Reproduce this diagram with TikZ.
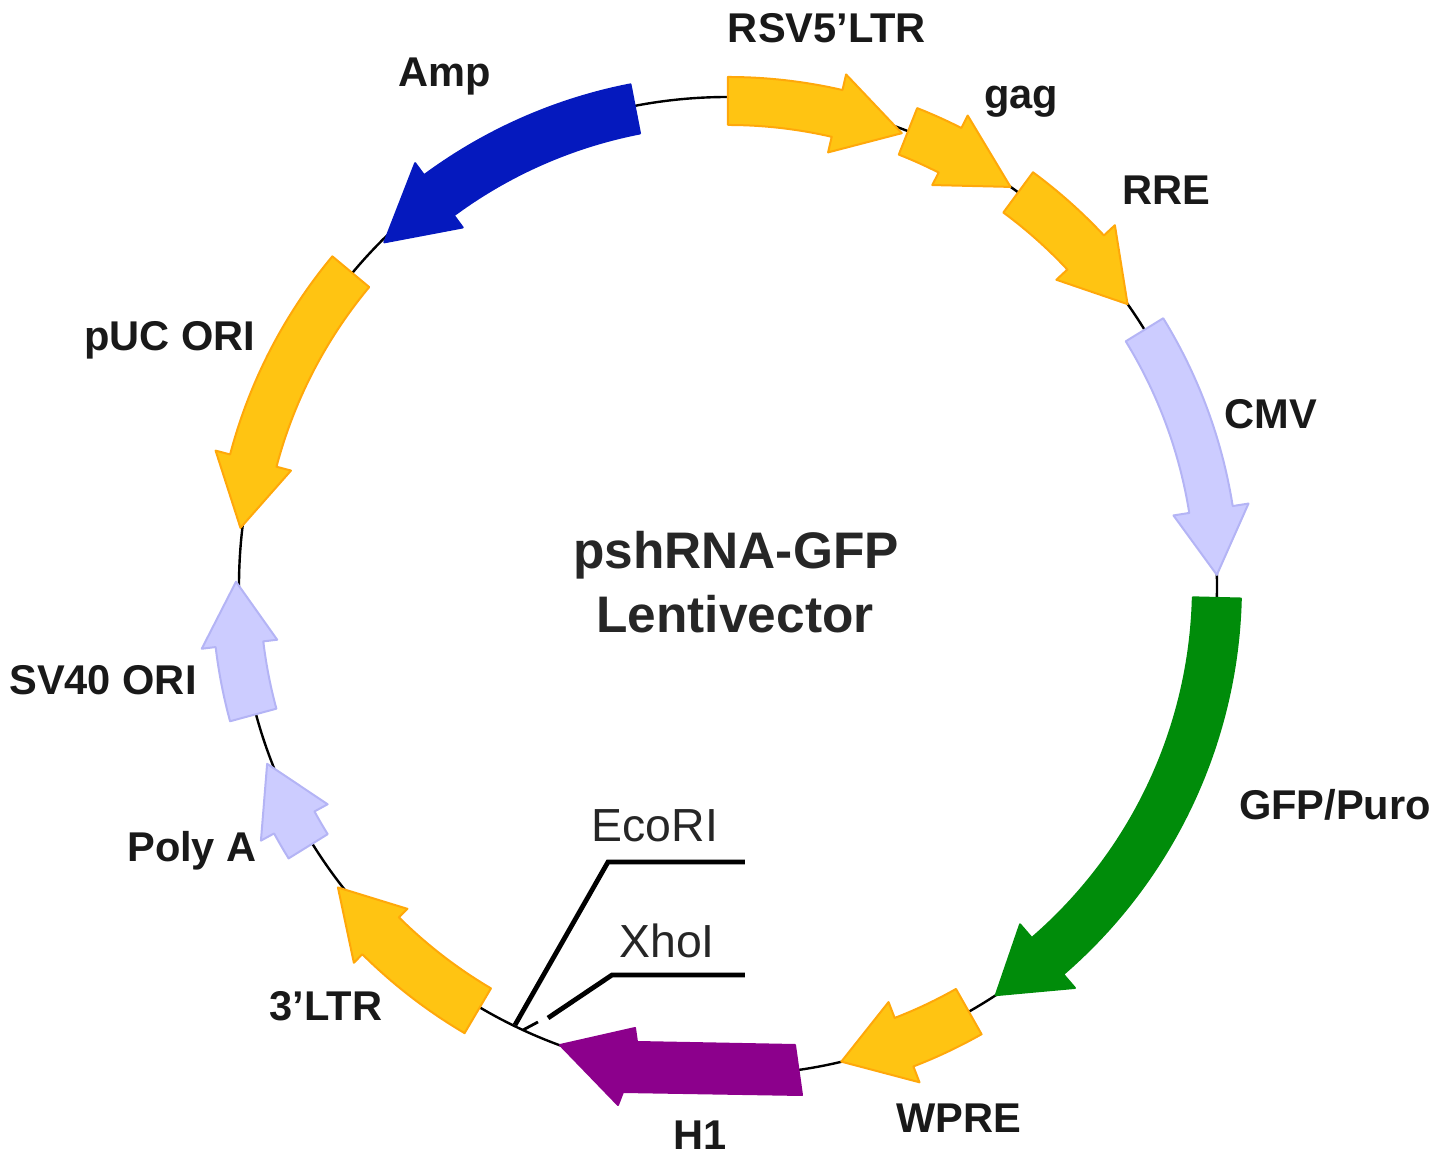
\documentclass[tikz,border=0pt]{standalone}
\usepackage{fontspec}
\setmainfont{Liberation Sans}
\definecolor{myamber}{RGB}{255,196,18}
\definecolor{myamberedge}{RGB}{255,168,10}
\definecolor{mylilac}{RGB}{204,204,255}
\definecolor{mylilacedge}{RGB}{180,180,245}
\definecolor{mygreen}{RGB}{0,140,10}
\definecolor{myblue}{RGB}{5,25,190}
\definecolor{mypurple}{RGB}{140,0,140}
\tikzset{
  genelabel/.style={font=\fontsize{20.8}{22}\selectfont\bfseries,text=black!90,inner sep=0pt},
  sitelabel/.style={font=\fontsize{23.2}{25}\selectfont,text=black!85,inner sep=0pt},
  titlelabel/.style={font=\fontsize{25.7}{28}\selectfont\bfseries,text=black!85,inner sep=0pt},
  siteline/.style={black,line width=2.4pt},
}
\begin{document}
\begin{tikzpicture}[x=0.5pt,y=0.5pt]
\def\ra{489}
  \useasboundingbox (-728,-577) rectangle (713,583);
  \coordinate (O) at (0,-3);
  \draw[black,line width=1.2pt] (O) circle (\ra);
  % start / head base / tip / radius / shaft / head / fill / edge
  \begin{scope}[shift={(O)}]
  \foreach \a/\b/\c/\r/\w/\h/\col/\edge in {
    90/77/69/485/24/40/myamber/myamberedge,
    68.4/63/54.7/489/25/39/myamber/myamberedge,
    53.6/43/35.2/489/25/40/myamber/myamberedge,
    31.6/9/1.3/489/22/38/mylilac/mylilacedge,
    -1.4/-49.2/-56.8/489/24/42/mygreen/mygreen,
    -60.5/-68.9/-76.6/489/26/43/myamber/myamberedge,
    -120.5/-134.8/-142.3/493/26/38/myamber/myamberedge,
    -148.2/-151.4/-158.9/494/23/38/mylilac/mylilacedge,
    -164.8/-173.2/-180.5/492/24/38/mylilac/mylilacedge,
    140.2/165.2/173.2/491/24/39/myamber/myamberedge,
    101/126.5/135/486/25/40/myblue/myblue}
    {
     \draw[fill=\col,draw=\edge,line width=1pt,line join=round]
       (\a:\r+\w) arc[start angle=\a,end angle=\b,radius=\r+\w]
       -- (\b:\r+\h) -- (\c:\r) -- (\b:\r-\h) -- (\b:\r-\w)
       arc[start angle=\b,end angle=\a,radius=\r-\w] -- cycle;
    }
  \end{scope}
  % H1 is nearly straight
  \draw[fill=mypurple,draw=mypurple,line width=1pt,line join=round]
    (67,-462) -- (74,-512) -- (-105,-509) -- (-110,-522) -- (-168,-462)
    -- (-93,-445) -- (-91,-459) -- cycle;
  % cloning sites
  \coordinate (ecostart) at (-213,-442);
  \coordinate (ecobend)  at (-120,-279);
  \coordinate (ecoend)   at (17,-279);
  \coordinate (xhostart) at (-180,-435);
  \coordinate (xhobend)  at (-116,-392);
  \coordinate (xhoend)   at (17,-392);
  \coordinate (ticka)    at (-205,-447);
  \coordinate (tickb)    at (-190,-439);
  \draw[siteline] (ecostart) -- (ecobend) -- (ecoend);
  \draw[siteline] (xhostart) -- (xhobend) -- (xhoend);
  \draw[black,line width=1.4pt] (ticka) -- (tickb);
  % labels
  \node[genelabel] (rsv)   at (99,555)   {RSV5’LTR};
  \node[genelabel] (gag)   at (293,481)  {gag};
  \node[genelabel] (rre)   at (438,393)  {RRE};
  \node[genelabel] (cmv)   at (543,169)  {CMV};
  \node[genelabel] (gfp)   at (607,-222) {GFP/Puro};
  \node[genelabel] (wpre)  at (231,-535) {WPRE};
  \node[genelabel] (hone)  at (-28,-552) {H1};
  \node[genelabel] (ltr)   at (-402,-423) {3’LTR};
  \node[genelabel] (polya) at (-536,-268) {Poly A};
  \node[genelabel] (sv)    at (-625,-97) {SV40 ORI};
  \node[genelabel] (puc)   at (-558,243) {pUC ORI};
  \node[genelabel] (amp)   at (-283,506) {Amp};
  \node[sitelabel] (eco)   at (-73,-243) {EcoRI};
  \node[sitelabel] (xho)   at (-61,-358) {XhoI};
  \node[titlelabel] (title) at (8,28)    {pshRNA-GFP};
  \node[titlelabel] (lenti) at (7,-31)   {Lentivector};
\end{tikzpicture}
\end{document}
